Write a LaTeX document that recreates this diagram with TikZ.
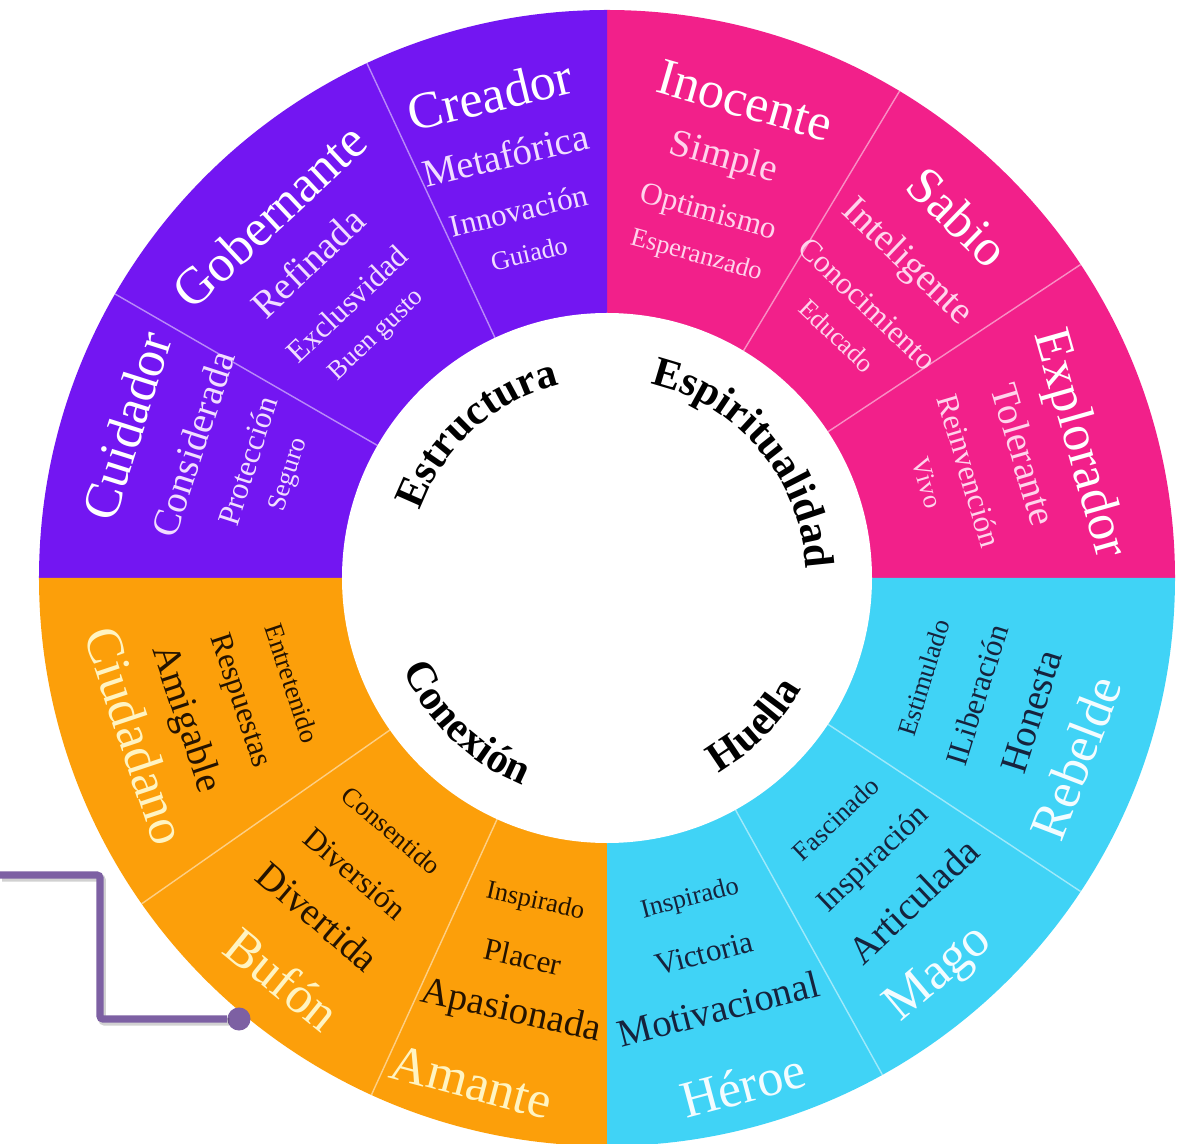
\documentclass[tikz,border=0pt]{standalone}
\usepackage{fontspec}
\setmainfont{Liberation Serif}
\usetikzlibrary{decorations.text}

\definecolor{morado}{HTML}{7316F2}
\definecolor{rosa}{HTML}{F2208A}
\definecolor{cian}{HTML}{40D3F6}
\definecolor{naranja}{HTML}{FC9F0A}
\definecolor{moradoTxt}{HTML}{F1DDFF}
\definecolor{rosaTxt}{HTML}{FFD3EC}
\definecolor{naranjaTit}{HTML}{FFF4C2}
\definecolor{naranjaTxt}{HTML}{241300}
\definecolor{cianTit}{HTML}{F3FCFF}
\definecolor{cianTxt}{HTML}{16233D}
\definecolor{enlace}{HTML}{7D60A3}

\tikzset{
    titulo/.style={inner sep=0, font=\fontsize{37}{39}\selectfont},
    linea1/.style={inner sep=0, font=\fontsize{27.5}{30}\selectfont},
    linea2/.style={inner sep=0, font=\fontsize{22.2}{25}\selectfont},
    linea3/.style={inner sep=0, font=\fontsize{18.8}{21}\selectfont},
    divisor/.style={white, opacity=0.5, line width=1pt},
    centro/.style={decorate, decoration={text along path, text align=center, text={#1}}}
}

\begin{document}
\begin{tikzpicture}[x=0.025cm, y=0.025cm]
        \useasboundingbox (-607,-565) rectangle (588,578);

        \fill[rosa] (0,0) -- (0:568) arc[start angle=0, end angle=90, radius=568] -- cycle;
        \fill[morado] (0,0) -- (90:568) arc[start angle=90, end angle=180, radius=568] -- cycle;
        \fill[naranja] (0,0) -- (180:568) arc[start angle=180, end angle=270, radius=568] -- cycle;
        \fill[cian] (0,0) -- (270:568) arc[start angle=270, end angle=360, radius=568] -- cycle;

        \foreach \d in {115,150,59,33.5,-33.5,-61,215,245.5}
            \draw[divisor] (\d:265) -- (\d:568);

        \fill[white] (0,0) circle[radius=265];

        \foreach \ta/\tr/\a/\t/\p/\q/\s/\ct/\cs [count=\i] in {
            103.6/497/103.5/Creador/Metafórica/Innovación/Guiado/white/moradoTxt,
            133/495/133.5/Gobernante/Refinada/Exclusvidad/Buen gusto/white/moradoTxt,
            162.4/504/162/Cuidador/Considerada/Protección/Seguro/white/moradoTxt,
            73.9/497/74.5/Inocente/Simple/Optimismo/Esperanzado/white/rosaTxt,
            45.8/504/46.5/Sabio/Inteligente/Conocimiento/Educado/white/rosaTxt,
            15.9/490/16.5/Explorador/Tolerante/Reinvención/Vivo/white/rosaTxt}
        {
            \node[titulo, text=\ct, rotate=\ta-90] (tit\i) at (\ta:\tr) {\t};
            \node[linea1, text=\cs, rotate=\a-90] (uno\i) at (\a:435) {\p};
            \node[linea2, text=\cs, rotate=\a-90] (dos\i) at (\a:378) {\q};
            \node[linea3, text=\cs, rotate=\a-90] (tres\i) at (\a:334) {\s};
        }

        \foreach \ta/\tr/\a/\t/\p/\q/\s/\ct/\cs [count=\i] in {
            -21/502/-17.5/Rebelde/Honesta/ILiberación/Estimulado/cianTit/cianTxt,
            -50/518/-46.5/Mago/Articulada/Inspiración/Fascinado/cianTit/cianTxt,
            -75/525/-75.5/Héroe/Motivacional/Victoria/Inspirado/cianTit/cianTxt,
            198.5/497/198.5/Ciudadano/Amigable/Respuestas/Entretenido/naranjaTit/naranjaTxt,
            231/516/229.5/Bufón/Divertida/Diversión/Consentido/naranjaTit/naranjaTxt,
            255/522/257.5/Amante/Apasionada/Placer/Inspirado/naranjaTit/naranjaTxt}
        {
            \node[titulo, text=\ct, rotate=\ta+90] (titB\i) at (\ta:\tr) {\t};
            \node[linea1, text=\cs, rotate=\a+90] (unoB\i) at (\a:445) {\p};
            \node[linea2, text=\cs, rotate=\a+90] (dosB\i) at (\a:388) {\q};
            \node[linea3, text=\cs, rotate=\a+90] (tresB\i) at (\a:332) {\s};
        }

        \path[centro={|\bfseries\fontsize{30}{33}\selectfont|Estructura}] (192:199) arc[start angle=192, end angle=72, radius=199];
        \path[centro={|\bfseries\fontsize{30}{33}\selectfont|Espiritualidad}] (100:199) arc[start angle=100, end angle=-20, radius=199];
        \path[centro={|\bfseries\fontsize{30}{33}\selectfont|Conexión}] (166:224) arc[start angle=166, end angle=286, radius=224];
        \path[centro={|\bfseries\fontsize{30}{33}\selectfont|Huella}] (-105:224) arc[start angle=-105, end angle=15, radius=224];

        \coordinate (inicio) at (-607,-297);
        \coordinate (codo) at (-507,-370);
        \node[circle, fill=enlace, minimum size=16.4pt, inner sep=0] (punto) at (-368,-441) {};
        \draw[black, opacity=0.18, line width=5.5pt, rounded corners=2pt, transform canvas={shift={(1.5pt,-2pt)}}] (inicio) -| (codo) |- (punto);
        \draw[enlace, line width=5pt, rounded corners=2pt] (inicio) -| (codo) |- (punto);

    \end{tikzpicture}
\end{document}
